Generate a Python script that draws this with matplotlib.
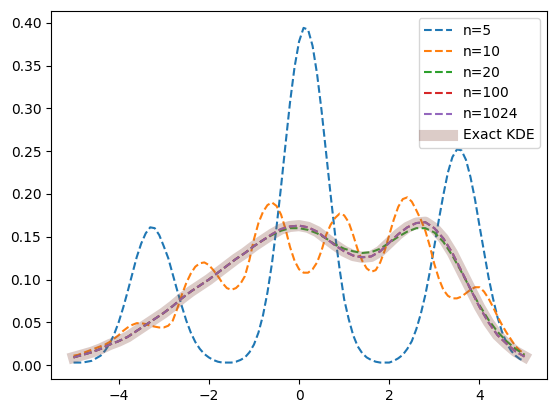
import numpy as np
import matplotlib
matplotlib.use("Agg")
import matplotlib.pyplot as plt

x = np.round(np.arange(-5.0, 5.0001, 0.2), 2)        # smooth curves
x_fine = np.round(np.arange(-5.0, 5.0001, 0.1), 2)   # wiggly curves

# n=5 approximation (read on x_fine)
y_n5 = [0.003, 0.003, 0.003, 0.004, 0.005, 0.008, 0.011, 0.017, 0.025, 0.036,
        0.050, 0.067, 0.086, 0.106, 0.126, 0.142, 0.154, 0.161, 0.160, 0.152,
        0.139, 0.125, 0.106, 0.087, 0.069, 0.052, 0.038, 0.027, 0.019, 0.013,
        0.009, 0.006, 0.004, 0.003, 0.003, 0.003, 0.004, 0.006, 0.009, 0.015,
        0.024, 0.038, 0.058, 0.085, 0.119, 0.161, 0.208, 0.258, 0.307, 0.348,
        0.378, 0.394, 0.392, 0.373, 0.340, 0.297, 0.248, 0.199, 0.152, 0.112,
        0.077, 0.054, 0.035, 0.022, 0.014, 0.009, 0.006, 0.004, 0.003, 0.003,
        0.003, 0.005, 0.008, 0.012, 0.019, 0.028, 0.042, 0.060, 0.082, 0.109,
        0.139, 0.170, 0.199, 0.225, 0.243, 0.252, 0.251, 0.240, 0.220, 0.194,
        0.163, 0.133, 0.103, 0.078, 0.056, 0.039, 0.026, 0.017, 0.011, 0.007,
        0.005]

# n=10 approximation (read on x_fine)
y_n10 = [0.011, 0.012, 0.014, 0.016, 0.018, 0.020, 0.022, 0.024, 0.027, 0.031,
         0.035, 0.040, 0.044, 0.047, 0.049, 0.049, 0.048, 0.046, 0.045, 0.044,
         0.044, 0.046, 0.052, 0.066, 0.082, 0.096, 0.107, 0.115, 0.119, 0.120,
         0.117, 0.111, 0.104, 0.096, 0.090, 0.088, 0.090, 0.095, 0.104, 0.123,
         0.147, 0.166, 0.179, 0.187, 0.190, 0.186, 0.176, 0.159, 0.138, 0.122,
         0.112, 0.108, 0.108, 0.112, 0.120, 0.134, 0.152, 0.164, 0.172, 0.177,
         0.175, 0.167, 0.152, 0.135, 0.122, 0.113, 0.109, 0.111, 0.120, 0.134,
         0.152, 0.170, 0.185, 0.194, 0.196, 0.191, 0.181, 0.170, 0.157, 0.139,
         0.118, 0.101, 0.088, 0.081, 0.078, 0.078, 0.080, 0.084, 0.088, 0.091,
         0.091, 0.086, 0.078, 0.068, 0.057, 0.047, 0.038, 0.030, 0.022, 0.017,
         0.013]

# n=20 approximation (read on x)
y_n20 = [0.009, 0.012, 0.015, 0.019, 0.024, 0.028, 0.033, 0.040, 0.047, 0.054,
         0.061, 0.069, 0.078, 0.086, 0.093, 0.100, 0.108, 0.116, 0.124, 0.131,
         0.139, 0.146, 0.152, 0.157, 0.160, 0.160, 0.158, 0.154, 0.148, 0.141,
         0.136, 0.133, 0.131, 0.132, 0.136, 0.143, 0.150, 0.156, 0.160, 0.160,
         0.155, 0.144, 0.128, 0.109, 0.089, 0.070, 0.053, 0.039, 0.028, 0.019,
         0.012]

# exact KDE (read on x)
y_exact = [0.009, 0.012, 0.015, 0.019, 0.024, 0.028, 0.033, 0.040, 0.047, 0.054,
           0.061, 0.069, 0.078, 0.086, 0.093, 0.100, 0.108, 0.116, 0.124, 0.131,
           0.139, 0.146, 0.153, 0.159, 0.162, 0.163, 0.161, 0.156, 0.148, 0.140,
           0.133, 0.128, 0.126, 0.127, 0.133, 0.143, 0.153, 0.161, 0.166, 0.167,
           0.160, 0.148, 0.131, 0.110, 0.089, 0.068, 0.050, 0.035, 0.025, 0.016,
           0.010]

# n=100 and n=1024 coincide with the exact KDE at this resolution
y_n100 = list(y_exact)
y_n1024 = list(y_exact)

series = [("n=5", x_fine, y_n5), ("n=10", x_fine, y_n10), ("n=20", x, y_n20),
          ("n=100", x, y_n100), ("n=1024", x, y_n1024)]

fig = plt.figure(figsize=(5.56, 4.13), dpi=100)
ax = fig.add_axes([0.0917, 0.0816, 0.8923, 0.8914])

for label, xs, y in series:
    ax.plot(xs, y, "--", label=label)
ax.plot(x, y_exact, color="tab:brown", alpha=0.3, linewidth=8, label="Exact KDE")

ax.legend(loc="upper right")

fig.savefig("out.png", dpi=100)
